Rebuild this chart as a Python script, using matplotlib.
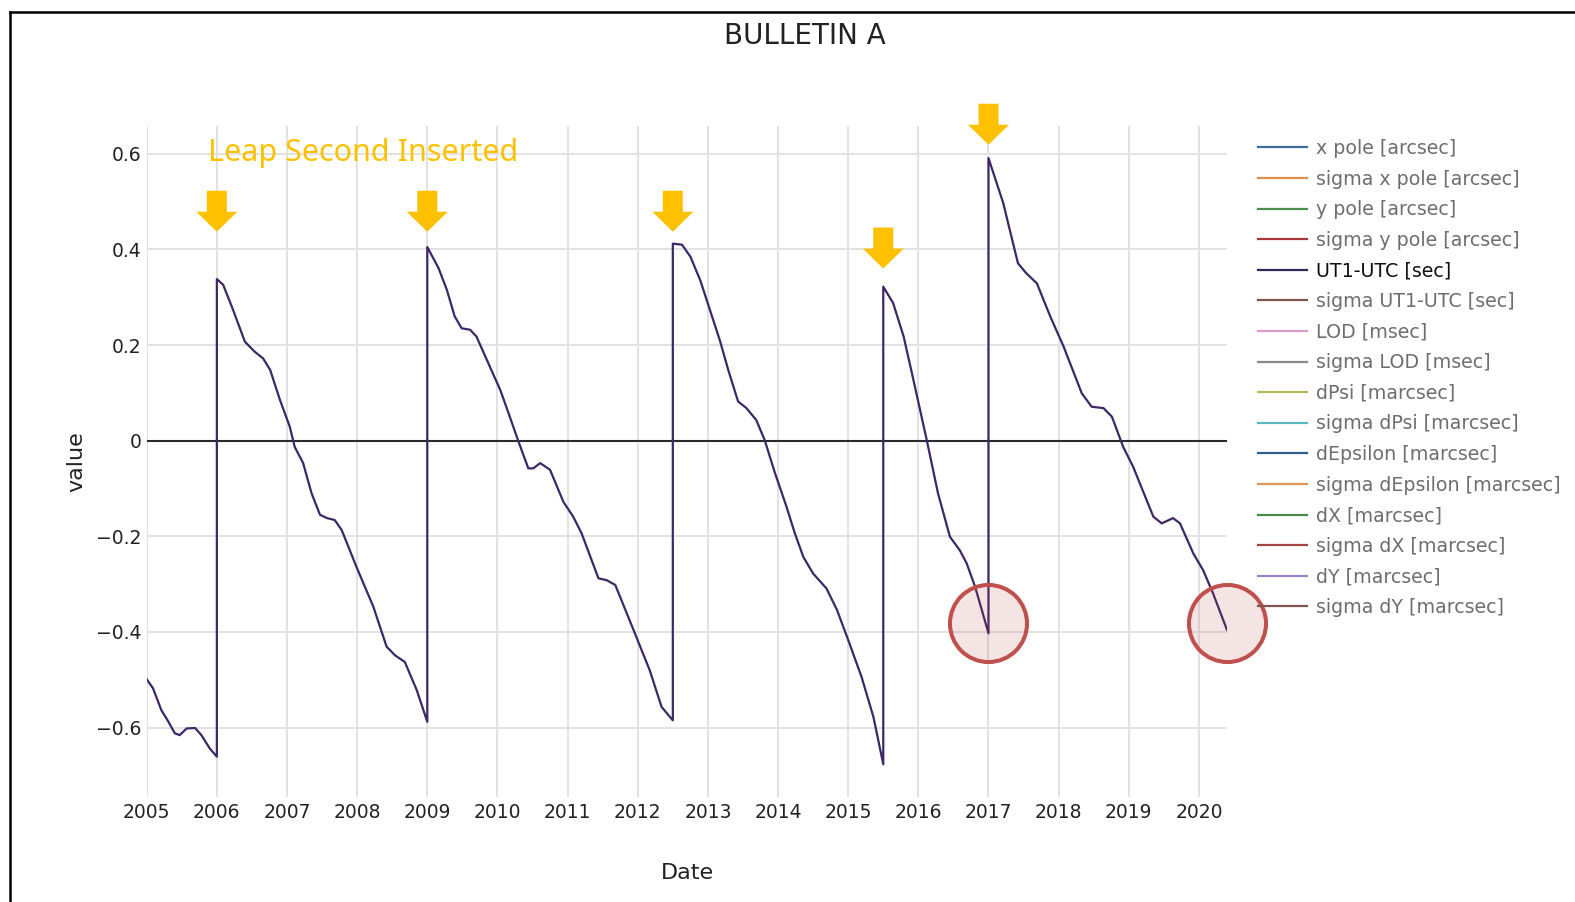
import numpy as np
import matplotlib.pyplot as plt
from matplotlib.lines import Line2D
from matplotlib.patches import Polygon

# %% DATA

years = [2005.00, 2005.09, 2005.21, 2005.31, 2005.40, 2005.47, 2005.57, 2005.69, 2005.78, 2005.90, 2006.00,
         2006.00, 2006.09, 2006.23, 2006.40, 2006.54, 2006.66, 2006.76, 2006.90, 2007.04, 2007.11, 2007.23,
         2007.35, 2007.47, 2007.57, 2007.68, 2007.78, 2007.99, 2008.23, 2008.42, 2008.54, 2008.68, 2008.85, 2009.00,
         2009.00, 2009.16, 2009.28, 2009.39, 2009.49, 2009.61, 2009.70, 2009.87, 2010.04, 2010.15, 2010.30,
         2010.44, 2010.51, 2010.61, 2010.75, 2010.94, 2011.08, 2011.20, 2011.44, 2011.56, 2011.68, 2011.94,
         2012.17, 2012.34, 2012.50,
         2012.50, 2012.63, 2012.75, 2012.89, 2013.03, 2013.17, 2013.29, 2013.43, 2013.55, 2013.69, 2013.81,
         2013.95, 2014.12, 2014.24, 2014.36, 2014.50, 2014.69, 2014.84, 2015.00, 2015.19, 2015.36, 2015.50,
         2015.50, 2015.64, 2015.79, 2015.93, 2016.12, 2016.28, 2016.45, 2016.59, 2016.69, 2016.81, 2017.00,
         2017.00, 2017.21, 2017.42, 2017.54, 2017.69, 2017.88, 2018.07, 2018.33, 2018.47, 2018.64, 2018.76,
         2018.92, 2019.06, 2019.35, 2019.47, 2019.63, 2019.73, 2019.92, 2020.06, 2020.20, 2020.40]

ut1_utc = [-0.499, -0.518, -0.564, -0.588, -0.612, -0.616, -0.602, -0.601, -0.616, -0.644, -0.661,
           0.338, 0.326, 0.274, 0.207, 0.186, 0.172, 0.148, 0.085, 0.029, -0.013, -0.047,
           -0.110, -0.155, -0.162, -0.166, -0.187, -0.264, -0.347, -0.431, -0.449, -0.463, -0.522, -0.588,
           0.405, 0.361, 0.315, 0.260, 0.235, 0.232, 0.218, 0.162, 0.106, 0.061, -0.002,
           -0.058, -0.058, -0.047, -0.061, -0.128, -0.159, -0.194, -0.288, -0.292, -0.302, -0.396,
           -0.480, -0.557, -0.585,
           0.412, 0.410, 0.385, 0.336, 0.273, 0.210, 0.148, 0.082, 0.068, 0.043, 0.001,
           -0.065, -0.138, -0.194, -0.243, -0.278, -0.309, -0.354, -0.417, -0.494, -0.578, -0.677,
           0.322, 0.288, 0.218, 0.127, 0.001, -0.110, -0.201, -0.229, -0.257, -0.306, -0.403,
           0.591, 0.497, 0.371, 0.350, 0.329, 0.260, 0.197, 0.099, 0.071, 0.068, 0.050,
           -0.013, -0.054, -0.159, -0.173, -0.162, -0.173, -0.236, -0.271, -0.319, -0.396]

year_ticks = list(range(2005, 2021))
value_ticks = [-0.6, -0.4, -0.2, 0, 0.2, 0.4, 0.6]
value_tick_labels = ['\u22120.6', '\u22120.4', '\u22120.2', '0', '0.2', '0.4', '0.6']

legend_names = ['x pole [arcsec]', 'sigma x pole [arcsec]', 'y pole [arcsec]', 'sigma y pole [arcsec]',
                'UT1-UTC [sec]', 'sigma UT1-UTC [sec]', 'LOD [msec]', 'sigma LOD [msec]',
                'dPsi [marcsec]', 'sigma dPsi [marcsec]', 'dEpsilon [marcsec]', 'sigma dEpsilon [marcsec]',
                'dX [marcsec]', 'sigma dX [marcsec]', 'dY [marcsec]', 'sigma dY [marcsec]']
legend_colors = ['#3b6e9a', '#e0904f', '#4e8f4e', '#a8383a', '#2e2a55', '#7d5650', '#d99ccc', '#8a8a8a',
                 '#b5b55a', '#5bb7c4', '#2f5f8a', '#d9955a', '#4a8a4a', '#a34444', '#9a86c4', '#7d5650']

# leap second dates and where the arrow tips sit
leap_dates = [2006.0, 2009.0, 2012.5, 2015.5, 2017.0]
arrow_tips = [0.437, 0.437, 0.437, 0.360, 0.619]

# end points of each cycle that are circled
circle_dates = [2017.0, 2020.40]
circle_values = [-0.382, -0.382]

# %% PLOT

W, H = 1575, 902
fig = plt.figure(figsize=(W / 100, H / 100), dpi=100)
ax_l, ax_r, ax_t, ax_b = 146.7, 1227.0, 125.6, 797.3
ax = fig.add_axes([ax_l / W, 1 - ax_b / H, (ax_r - ax_l) / W, (ax_b - ax_t) / H])

xlim = (2005.0, 2020.40)
ylim = (-0.746, 0.659)
ax.set_xlim(xlim)
ax.set_ylim(ylim)

for s in ax.spines.values():
    s.set_visible(False)
ax.set_xticks(year_ticks)
ax.set_xticklabels([str(y) for y in year_ticks])
ax.set_yticks(value_ticks)
ax.set_yticklabels(value_tick_labels)
ax.tick_params(length=0, labelsize=13.5, colors='#222222')
ax.tick_params(axis='x', pad=4)
ax.tick_params(axis='y', pad=3.6)
ax.grid(color='#e2e2e2', lw=1.4)
ax.set_axisbelow(True)
ax.axhline(0, color='#2a2a2a', lw=1.5, zorder=1)

ax.plot(years, ut1_utc, color='#3c2866', lw=1.6, zorder=3, solid_joinstyle='round')

# yellow block arrows (sizes in pixels)
sx = (xlim[1] - xlim[0]) / (ax_r - ax_l)
sy = (ylim[1] - ylim[0]) / (ax_b - ax_t)
shaft_hw, head_hw, head_h, total_h = 10, 20.5, 20, 41
for xd, yt in zip(leap_dates, arrow_tips):
    pts = [(0, 0), (-head_hw, head_h), (-shaft_hw, head_h), (-shaft_hw, total_h),
           (shaft_hw, total_h), (shaft_hw, head_h), (head_hw, head_h)]
    verts = [(xd + px * sx, yt + py * sy) for px, py in pts]
    ax.add_patch(Polygon(verts, closed=True, color='#ffc000', lw=0, zorder=4, clip_on=False))

# red circles
ax.plot(circle_dates, circle_values, 'o', ms=55.5, mfc=(0.75, 0.31, 0.30, 0.15),
        mec='#c0504d', mew=2.9, clip_on=False, zorder=5)

fig.text(208 / W, 1 - 153 / H, 'Leap Second Inserted', ha='left', va='center',
         fontsize=22, color='#ffc000', family='Noto Sans')

fig.text(805 / W, 1 - 36 / H, 'BULLETIN A', ha='center', va='center', fontsize=20, color='#222222')
fig.text(76 / W, 1 - 462 / H, 'value', ha='center', va='center', rotation=90, fontsize=16, color='#222222')
fig.text(687 / W, 1 - 873 / H, 'Date', ha='center', va='center', fontsize=16, color='#222222')

# legend
handles = []
for i, c in enumerate(legend_colors):
    handles.append(Line2D([], [], color=c, lw=1.6))
leg = fig.legend(handles, legend_names, loc='upper left', bbox_to_anchor=(1258 / W, 1 - 139 / H),
                 frameon=False, fontsize=13.7, handlelength=2.56, handletextpad=0.48,
                 labelspacing=0.61, borderpad=0, borderaxespad=0)
for i, t in enumerate(leg.get_texts()):
    t.set_color('#111111' if i == 4 else '#6e6e6e')

# screenshot frame
fig.add_artist(Line2D([10 / W, 1], [1 - 12 / H, 1 - 12 / H], color='black', lw=1.8, transform=fig.transFigure))
fig.add_artist(Line2D([10 / W, 10 / W], [0, 1 - 12 / H], color='black', lw=1.8, transform=fig.transFigure))

fig.savefig('out.png', dpi=100)
